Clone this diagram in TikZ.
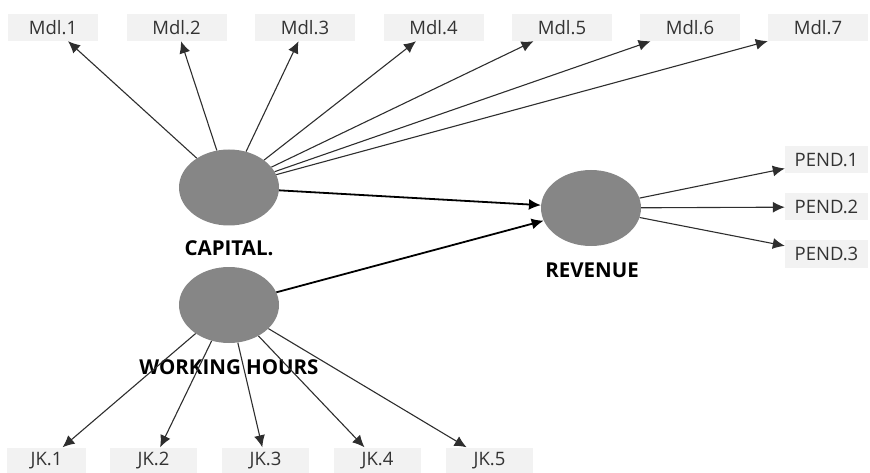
\documentclass[tikz,border=0pt]{standalone}
\usepackage{fontspec}
\setmainfont{Open Sans}
\usepackage{xcolor}
\usepackage{tikz}
\usetikzlibrary{positioning, arrows.meta, shapes.geometric}
\definecolor{lvGray}{HTML}{868686}
\definecolor{boxFill}{HTML}{F2F2F2}
\definecolor{boxText}{HTML}{333333}
\definecolor{lineGray}{HTML}{2E2E2E}

\begin{document}
\begin{tikzpicture}[x=1pt, y=-1pt,
  latent/.style={ellipse, fill=lvGray, minimum width=100pt, minimum height=76pt, inner sep=0pt},
  ind/.style={fill=boxFill, text=boxText, minimum height=27pt, inner sep=0pt, font=\fontsize{18.5}{21}\selectfont},
  lvname/.style={font=\fontsize{20.5}{23}\selectfont\bfseries, text=black},
  arr/.style={-{Latex[length=12pt, width=11pt]}, lineGray, line width=1.1pt},
  path/.style={-{Latex[length=12pt, width=11pt]}, black, line width=1.8pt}]
  \useasboundingbox (0,0) rectangle (870,473);
  % latent variables
  \node[latent] (cap) at (229,187.5) {};
  \node[latent] (wh) at (229,305) {};
  \node[latent] (rev) at (591,208) {};
  \node[lvname] (capl) at (229,248) {CAPITAL.};
  \node[lvname] (whl) at (229,367) {WORKING HOURS};
  \node[lvname] (revl) at (592,270) {REVENUE};
  % capital indicators
  \node[ind, minimum width=90pt] (m1) at (53,27.5) {Mdl.1};
  \node[ind, minimum width=100pt] (m2) at (176.5,27.5) {Mdl.2};
  \node[ind, minimum width=100pt] (m3) at (305,27.5) {Mdl.3};
  \node[ind, minimum width=100pt] (m4) at (433.5,27.5) {Mdl.4};
  \node[ind, minimum width=100pt] (m5) at (562,27.5) {Mdl.5};
  \node[ind, minimum width=100pt] (m6) at (690,27.5) {Mdl.6};
  \node[ind, minimum width=100pt] (m7) at (818,27.5) {Mdl.7};
  % working hours indicators
  \node[ind, minimum width=79pt] (j1) at (46.5,461) {JK.1};
  \node[ind, minimum width=87pt] (j2) at (153.5,461) {JK.2};
  \node[ind, minimum width=87pt] (j3) at (265.5,461) {JK.3};
  \node[ind, minimum width=87pt] (j4) at (377.5,461) {JK.4};
  \node[ind, minimum width=87pt] (j5) at (489.5,461) {JK.5};
  % revenue indicators
  \node[ind, minimum width=83pt] (p1) at (826.5,160) {PEND.1};
  \node[ind, minimum width=83pt] (p2) at (826.5,207) {PEND.2};
  \node[ind, minimum width=83pt] (p3) at (826.5,254) {PEND.3};
  % loadings
  \draw[arr] (cap) -- (m1);
  \draw[arr] (cap) -- (m2);
  \draw[arr] (cap) -- (m3);
  \draw[arr] (cap) -- (m4);
  \draw[arr] (cap) -- (m5);
  \draw[arr] (cap) -- (m6);
  \draw[arr] (cap) -- (m7);
  \draw[arr] (wh) -- (j1);
  \draw[arr] (wh) -- (j2);
  \draw[arr] (wh) -- (j3);
  \draw[arr] (wh) -- (j4);
  \draw[arr] (wh) -- (j5);
  \draw[arr] (rev) -- (p1);
  \draw[arr] (rev) -- (p2);
  \draw[arr] (rev) -- (p3);
  % structural paths
  \draw[path] (cap) -- (rev);
  \draw[path] (wh) -- (rev);
\end{tikzpicture}
\end{document}
